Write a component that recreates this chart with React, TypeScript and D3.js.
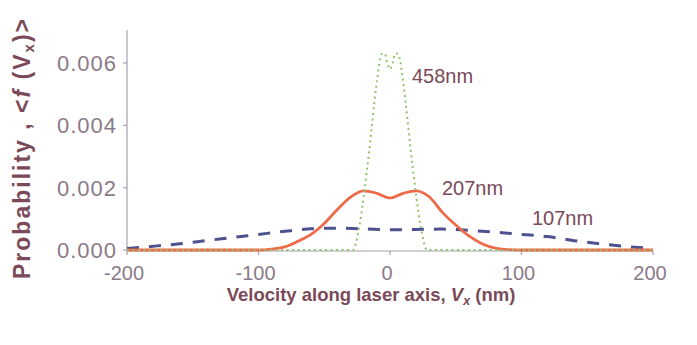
import React from "react";
import * as d3 from "d3";

const xTicks = [-200, -100, 0, 100, 200];
const yTicks = [0, 0.002, 0.004, 0.006];

const v458 = [-200, -100, -30, -28, -26, -24, -22, -20, -18, -16, -14, -12, -10, -8, -6, -4, -2, 0, 2, 4, 6, 8, 10, 12, 14, 16, 18, 20, 22, 24, 26, 28, 30, 100, 200];
const p458 = [0, 0, 0, 0, 0.0002, 0.0006, 0.0011, 0.0017, 0.0024, 0.0031, 0.0039, 0.0047, 0.0054, 0.006, 0.0063, 0.0063, 0.006, 0.0058, 0.006, 0.0063, 0.0063, 0.006, 0.0054, 0.0047, 0.0039, 0.0031, 0.0024, 0.0017, 0.0011, 0.0006, 0.0002, 0, 0, 0, 0];

const v207 = [-200, -100, -90, -80, -70, -60, -50, -40, -30, -20, -10, 0, 10, 20, 30, 40, 50, 60, 70, 80, 90, 100, 200];
const p207 = [0, 0, 0.00003, 0.0001, 0.00028, 0.0005, 0.00085, 0.0013, 0.0017, 0.0019, 0.00182, 0.00167, 0.00182, 0.0019, 0.0017, 0.0012, 0.0008, 0.00045, 0.0002, 0.00006, 0.00001, 0, 0];

const v107 = [-200, -180, -160, -140, -120, -100, -80, -60, -40, -20, 0, 20, 40, 60, 80, 100, 120, 140, 160, 180, 200];
const p107 = [0.00005, 0.00012, 0.0002, 0.0003, 0.0004, 0.0005, 0.0006, 0.00068, 0.0007, 0.00068, 0.00065, 0.00066, 0.00067, 0.00063, 0.00057, 0.0005, 0.00043, 0.0003, 0.0002, 0.00011, 0.00005];

const seriesLabels = ["458nm", "207nm", "107nm"];

export default function App() {
  const W = 697, H = 345;
  const x = d3.scaleLinear().domain([-200, 200]).range([127, 653]);
  const y = d3.scaleLinear().domain([0, 0.006]).range([250, 63]);
  const line = d3.line<[number, number]>().x(d => x(d[0])).y(d => y(d[1])).curve(d3.curveMonotoneX);
  const mk = (vs: number[], ps: number[]) => vs.map((v, i) => [v, ps[i]] as [number, number]);
  const tickColor = "#8a7a88";
  const labColor = "#7a4a58";
  const font = "Liberation Sans, Arial, sans-serif";
  return (
    <svg width={W} height={H} style={{ position: "absolute", left: 0, top: 0, background: "#fff" }}>
      {/* axes */}
      <line x1={x(-200)} x2={x(-200)} y1={30} y2={251} stroke="#a89fb0" strokeWidth={1.2} />
      <line x1={x(-200)} x2={x(200)} y1={251} y2={251} stroke="#a89fb0" strokeWidth={1.2} />
      {yTicks.map(t => (
        <g key={t}>
          <line x1={x(-200) - 4} x2={x(-200)} y1={y(t)} y2={y(t)} stroke="#a89fb0" strokeWidth={1.2} />
          <text x={117} y={y(t) + 8} textAnchor="end" fontSize={22} letterSpacing={1} fontFamily={font} fill={tickColor}>{d3.format(".3f")(t)}</text>
        </g>
      ))}
      {xTicks.map(t => (
        <g key={t}>
          <line x1={x(t)} x2={x(t)} y1={251} y2={255} stroke="#a89fb0" strokeWidth={1.2} />
          <text x={x(t) - 3} y={280} textAnchor="middle" fontSize={20} fontFamily={font} fill={tickColor}>{t < 0 ? "-" + Math.abs(t) : String(t)}</text>
        </g>
      ))}
      {/* series */}
      <path d={line(mk(v107, p107)) || ""} fill="none" stroke="#4d5190" strokeWidth={3} strokeDasharray="12 10" />
      <path d={line(mk(v207, p207)) || ""} fill="none" stroke="#ee6a48" strokeWidth={2.8} />
      <path d={line(mk(v458, p458)) || ""} fill="none" stroke="#8fc26a" strokeWidth={2} strokeDasharray="2 3.5" />
      {/* labels */}
      <text x={412} y={83} fontSize={20} fontFamily={font} fill={labColor}>{seriesLabels[0]}</text>
      <text x={442} y={195} fontSize={20} fontFamily={font} fill={labColor}>{seriesLabels[1]}</text>
      <text x={532} y={225} fontSize={20} fontFamily={font} fill={labColor}>{seriesLabels[2]}</text>
      {/* axis titles */}
      <text x={371} y={301} textAnchor="middle" fontSize={18.5} fontWeight="bold" fontFamily={font} fill={labColor}>
        Velocity along laser axis, <tspan fontStyle="italic">V</tspan><tspan fontSize={12.5} dy={4} fontStyle="italic">x</tspan><tspan dy={-4}> (nm)</tspan>
      </text>
      <text transform="translate(30,148) rotate(-90)" textAnchor="middle" fontSize={23} letterSpacing={2} fontWeight="bold" fontFamily={font} fill={labColor}>
        Probability , &lt;<tspan fontStyle="italic">f</tspan> (V<tspan fontSize={15} dy={4}>x</tspan><tspan dy={-4}>)&gt;</tspan>
      </text>
    </svg>
  );
}
